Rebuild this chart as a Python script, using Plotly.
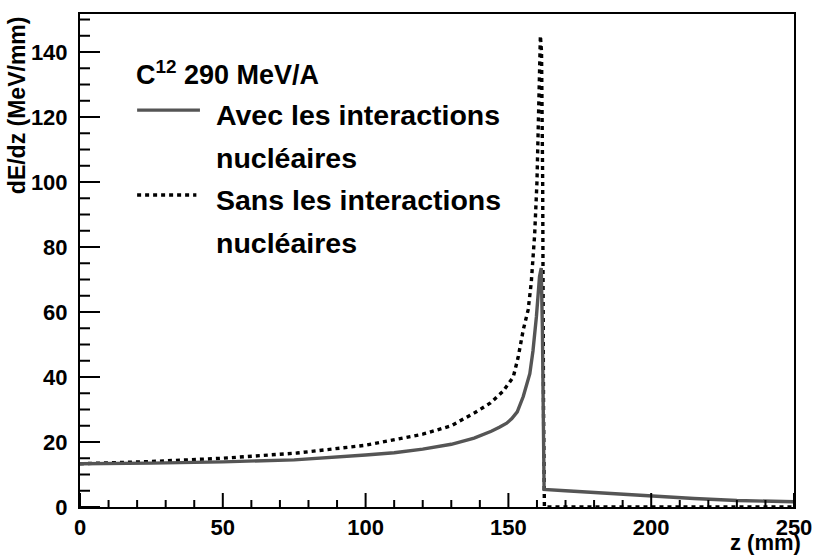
import plotly.graph_objects as go

# ---- data ----
z_avec = [0, 10, 25, 50, 75, 100, 110, 120, 130, 138, 141, 144, 147, 149.4, 151.2, 153.1, 155.2,
          156.4, 157.5, 158.6, 159.8, 160.9, 161.5, 161.9, 162.2, 162.5, 170, 185, 200, 215, 230, 250]
dedz_avec = [13.3, 13.3, 13.5, 13.9, 14.5, 16.0, 16.7, 17.8, 19.3, 21.2, 22.2, 23.3, 24.6, 25.8, 27.2, 29.3, 34,
             37.5, 41, 48, 58.5, 70.9, 73.5, 55, 20, 5.4, 5.0, 4.2, 3.3, 2.6, 2.0, 1.6]

z_sans = [0, 25, 50, 75.9, 100, 110, 120, 130, 138, 143.7, 148, 151.7, 153.4, 155.2, 156.9, 158.0,
          159.2, 160.0, 160.6, 161.2, 161.6, 162.0, 162.3, 162.6, 200, 250]
dedz_sans = [13.3, 14.0, 15.0, 16.6, 19.0, 20.6, 22.4, 25.0, 28.9, 32.0, 35.5, 40, 46, 54.5, 60.6, 69,
             84, 100, 120, 145, 140, 100, 30, 0, 0, 0]

x_range = [0, 250]
y_range = [0, 151.7]
x_major = [0, 50, 100, 150, 200, 250]
y_major = [0, 20, 40, 60, 80, 100, 120, 140]
x_minor_step = 10
y_minor_step = 5

legend_title = "C<sup>12</sup> 290 MeV/A"
label_avec = "Avec les interactions"
label_sans = "Sans les interactions"
label_nucl = "nucléaires"

FONT = "Liberation Sans, Arial, Helvetica, sans-serif"
GREY = "#555555"

fig = go.Figure()
fig.add_trace(go.Scatter(x=z_sans, y=dedz_sans, mode="lines",
                         line=dict(color="black", width=3.4, dash="4px,4px"),
                         showlegend=False))
fig.add_trace(go.Scatter(x=z_avec, y=dedz_avec, mode="lines",
                         line=dict(color=GREY, width=3.4),
                         showlegend=False))

tickfont = dict(family=FONT, size=22, color="black", weight="bold")
frame = dict(showgrid=False, zeroline=False, showline=True, linecolor="black", linewidth=2,
             mirror=True, ticks="", tickfont=tickfont)

fig.update_layout(
    width=824, height=555,
    margin=dict(l=80, r=19, t=14, b=48),
    paper_bgcolor="white", plot_bgcolor="white",
    showlegend=False,
    xaxis=dict(range=x_range, tickvals=x_major, **frame),
    yaxis=dict(range=y_range, tickvals=y_major, ticklabelstandoff=6, **frame),
)

# tick marks pointing into the frame (ROOT style), positioned through the axis scales
TK = dict(color="black", width=2)
x_minor = [v for v in range(x_range[0], x_range[1] + 1, x_minor_step) if v not in x_major]
y_minor = [v for v in range(0, int(y_range[1]) + 1, y_minor_step) if v not in y_major]
for v, ln in [(v, 14) for v in x_major] + [(v, 7) for v in x_minor]:
    fig.add_shape(type="line", xref="x", yref="y", x0=v, x1=v, ysizemode="pixel", yanchor=0,
                  y0=0, y1=ln, line=TK)
for v, ln in [(v, 20) for v in y_major] + [(v, 10) for v in y_minor]:
    fig.add_shape(type="line", xref="x", yref="y", y0=v, y1=v, xsizemode="pixel", xanchor=0,
                  x0=0, x1=ln, line=TK)

# legend samples (style only)
fig.add_shape(type="line", xref="paper", yref="paper", x0=0.080, x1=0.168, y0=0.805, y1=0.805,
              line=dict(color=GREY, width=3.4))
fig.add_shape(type="line", xref="paper", yref="paper", x0=0.080, x1=0.163, y0=0.633, y1=0.633,
              line=dict(color="black", width=3.4, dash="4px,4px"))

def txt(s, x, y, size, xanchor="left", yanchor="middle", angle=0):
    fig.add_annotation(text="<b>" + s + "</b>", xref="paper", yref="paper", x=x, y=y,
                       xanchor=xanchor, yanchor=yanchor, showarrow=False, textangle=angle,
                       font=dict(family=FONT, size=size, color="black"))

txt(legend_title, 0.0759, 0.880, 27)
txt(label_avec, 0.1876, 0.795, 28.5)
txt(label_nucl, 0.1876, 0.708, 28.5)
txt(label_sans, 0.1876, 0.623, 28.5)
txt(label_nucl, 0.1876, 0.5355, 28.5)

# axis titles
txt("z (mm)", 1.012, -0.073, 22, xanchor="right")
txt("dE/dz (MeV/mm)", -0.088, 1.0, 23, xanchor="center", yanchor="top", angle=-90)

fig.write_html("out.html")
